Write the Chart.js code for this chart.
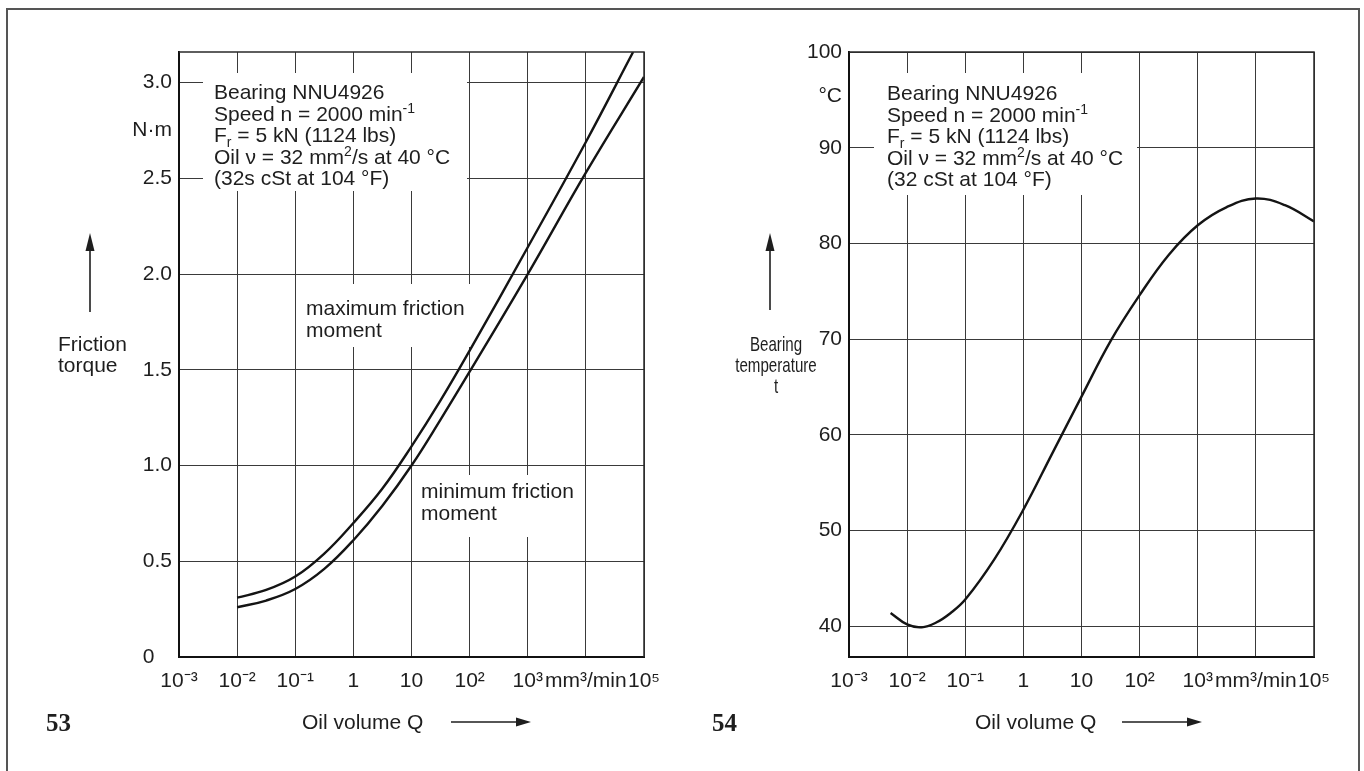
<!DOCTYPE html>
<html lang="en">
<head>
<meta charset="UTF-8">
<title>Friction torque and bearing temperature vs oil volume</title>
<script src="https://cdn.jsdelivr.net/npm/chart.js"></script>
<style>
  body { margin: 0; background: #fff; }
  #page { position: relative; width: 1364px; height: 771px; overflow: hidden; background: #fff; }
  #frame { position: absolute; left: 6px; top: 8px; width: 1354px; height: 800px; border: 2px solid #555; box-sizing: border-box; }
  canvas { position: absolute; left: 0; top: 0; }
</style>
</head>
<body>
<div id="page">
  <div id="frame"></div>
  <canvas id="torque" width="1364" height="771"></canvas>
  <canvas id="temp" width="1364" height="771"></canvas>
</div>
<script>
// --- data ---
const decades = [0.001, 0.01, 0.1, 1, 10, 100, 1000, 10000, 100000];
const decadeLabels = ['10⁻³', '10⁻²', '10⁻¹', '1', '10', '10²', '10³', 'mm³/min', '10⁵'];

// fig 53: friction torque, N·m
const qMaxFriction = [0.01, 0.0316, 0.1, 0.316, 1, 3.16, 10, 31.6, 100, 1000, 10000, 65000];
const torqueMax = [0.31, 0.35, 0.42, 0.54, 0.70, 0.88, 1.10, 1.34, 1.60, 2.14, 2.69, 3.16];
const qMinFriction = [0.01, 0.0316, 0.1, 0.316, 1, 3.16, 10, 31.6, 100, 1000, 10000, 100000];
const torqueMin = [0.26, 0.295, 0.355, 0.46, 0.61, 0.79, 1.00, 1.24, 1.49, 2.00, 2.53, 3.03];
const torqueTicks = [0, 0.5, 1, 1.5, 2, 2.5, 3];
const torqueLabels = ['0   ', '0.5', '1.0', '1.5', '2.0', '2.5', '3.0'];

// fig 54: bearing temperature, °C
const qTemp = [0.0052, 0.01, 0.0178, 0.0316, 0.0562, 0.1, 0.316, 1, 3.16, 10, 31.6, 100, 316, 1000, 3160, 10000, 31600, 100000];
const tempBearing = [41.4, 40.2, 39.9, 40.4, 41.4, 42.8, 47.0, 52.2, 58.1, 64.0, 69.8, 74.6, 78.8, 81.9, 83.8, 84.7, 84.0, 82.3];
const tempTicks = [40, 50, 60, 70, 80, 90, 100];
const tempLabels = ['40', '50', '60', '70', '80', '90', '100'];

const infoTorque = [
  ['Bearing NNU4926'],
  ['Speed n = 2000 min', ['sup', '-1']],
  ['F', ['sub', 'r'], ' = 5 kN (1124 lbs)'],
  ['Oil ν = 32 mm', ['sup', '2'], '/s at 40 °C'],
  ['(32s cSt at 104 °F)']
];
const infoTemp = [
  ['Bearing NNU4926'],
  ['Speed n = 2000 min', ['sup', '-1']],
  ['F', ['sub', 'r'], ' = 5 kN (1124 lbs)'],
  ['Oil ν = 32 mm', ['sup', '2'], '/s at 40 °C'],
  ['(32 cSt at 104 °F)']
];

const FONT = '"Liberation Sans", Arial, sans-serif';
const INK = '#1e1e1e';
const GRID = '#3a3a3a';
const W = 1364, H = 771;

// text with super/subscripts, left aligned at x, baseline y
function richText(ctx, parts, x, y, size) {
  let cx = x;
  parts.forEach(p => {
    let txt = p, dy = 0, fs = size;
    if (Array.isArray(p)) {
      txt = p[1];
      fs = Math.round(size * 0.68);
      dy = p[0] === 'sup' ? -size * 0.36 : size * 0.24;
    }
    ctx.font = fs + 'px ' + FONT;
    ctx.fillText(txt, cx, y + dy);
    cx += ctx.measureText(txt).width;
  });
}

function arrow(ctx, x1, y1, x2, y2, len, half) {
  const ang = Math.atan2(y2 - y1, x2 - x1);
  ctx.beginPath();
  ctx.moveTo(x1, y1);
  ctx.lineTo(x2 - Math.cos(ang) * len * 0.8, y2 - Math.sin(ang) * len * 0.8);
  ctx.stroke();
  ctx.beginPath();
  ctx.moveTo(x2, y2);
  ctx.lineTo(x2 - Math.cos(ang) * len - Math.sin(ang) * half, y2 - Math.sin(ang) * len + Math.cos(ang) * half);
  ctx.lineTo(x2 - Math.cos(ang) * len + Math.sin(ang) * half, y2 - Math.sin(ang) * len - Math.cos(ang) * half);
  ctx.closePath();
  ctx.fill();
}

function makeDecor(cfg) {
  return {
    id: 'decor',
    beforeDatasetsDraw(chart) {
      const ctx = chart.ctx;
      ctx.save();
      ctx.textAlign = 'left';
      ctx.textBaseline = 'alphabetic';
      cfg.boxes.forEach(b => {
        ctx.fillStyle = '#fff';
        ctx.fillRect(b.x, b.y, b.w, b.h);
        ctx.fillStyle = INK;
        b.lines.forEach((ln, i) => richText(ctx, ln, b.tx, b.ty + i * b.lh, 21));
      });
      ctx.restore();
    },
    afterDraw(chart) {
      const ctx = chart.ctx, a = chart.chartArea;
      ctx.save();
      // top and right edge of the plot
      ctx.strokeStyle = '#2a2a2a';
      ctx.lineWidth = 1.5;
      ctx.beginPath();
      ctx.moveTo(a.left, a.top);
      ctx.lineTo(a.right, a.top);
      ctx.lineTo(a.right, a.bottom);
      ctx.stroke();

      ctx.fillStyle = INK;
      ctx.strokeStyle = INK;
      ctx.font = '21px ' + FONT;
      ctx.textBaseline = 'alphabetic';
      // y title (optionally condensed)
      const t = cfg.yTitle;
      ctx.save();
      ctx.translate(t.x, 0);
      ctx.scale(t.squeeze, 1);
      ctx.textAlign = t.align;
      t.lines.forEach((s, i) => ctx.fillText(s, 0, t.y + i * 21));
      ctx.restore();
      ctx.lineWidth = 1.6;
      arrow(ctx, cfg.yArrow.x, cfg.yArrow.y1, cfg.yArrow.x, cfg.yArrow.y2, 18, 4.5);
      // x title
      ctx.textAlign = 'left';
      ctx.fillText('Oil volume Q', cfg.xTitle.x, cfg.xTitle.y);
      arrow(ctx, cfg.xArrow.x1, cfg.xArrow.y, cfg.xArrow.x2, cfg.xArrow.y, 15, 4.5);
      // figure number
      ctx.font = 'bold 25px "Liberation Serif", "Times New Roman", serif';
      ctx.fillText(cfg.figNo, cfg.figPos.x, cfg.figPos.y);
      ctx.restore();
    }
  };
}

function makeChart(id, cfg) {
  const a = cfg.area;
  const yTickList = cfg.yTicks.concat([cfg.unit.value]).sort((p, q) => p - q);
  return new Chart(document.getElementById(id), {
    type: 'line',
    data: {
      datasets: cfg.series.map(s => ({
        data: s.q.map((q, i) => ({ x: q, y: s.v[i] })),
        borderColor: '#141414',
        borderWidth: 2.4,
        pointRadius: 0,
        fill: false,
        tension: 0.4
      }))
    },
    options: {
      responsive: false,
      animation: false,
      devicePixelRatio: 1,
      events: [],
      layout: { padding: { left: 0, top: a.top, right: W - a.right, bottom: 0 } },
      plugins: { legend: { display: false }, tooltip: { enabled: false } },
      scales: {
        x: {
          type: 'logarithmic',
          min: decades[0],
          max: decades[decades.length - 1],
          afterBuildTicks: s => { s.ticks = decades.map(v => ({ value: v })); },
          afterFit: s => { s.height = H - a.bottom; s.paddingLeft = 0; s.paddingRight = 0; },
          grid: { color: GRID, lineWidth: 1, drawTicks: false },
          border: { color: '#111', width: 2 },
          ticks: {
            autoSkip: false, maxRotation: 0, padding: 12, color: INK,
            font: { family: FONT, size: 21 },
            callback: v => decadeLabels[decades.indexOf(v)]
          }
        },
        y: {
          min: cfg.yMin,
          max: cfg.yMax,
          afterBuildTicks: s => { s.ticks = yTickList.map(v => ({ value: v })); },
          afterFit: s => { s.width = a.left; s.paddingTop = 0; s.paddingBottom = 0; },
          grid: {
            color: c => (c.tick && c.tick.value === cfg.unit.value) ? 'rgba(0,0,0,0)' : GRID,
            lineWidth: 1, drawTicks: false
          },
          border: { color: '#111', width: 2 },
          ticks: {
            autoSkip: false, padding: 7, color: INK,
            font: { family: FONT, size: 21 },
            callback: v => v === cfg.unit.value ? cfg.unit.label : cfg.yLabels[cfg.yTicks.indexOf(v)]
          }
        }
      }
    },
    plugins: [makeDecor(cfg)]
  });
}

makeChart('torque', {
  area: { left: 179, right: 644, top: 52, bottom: 657 },
  yMin: 0, yMax: 3.16,
  yTicks: torqueTicks, yLabels: torqueLabels,
  unit: { value: 2.75, label: 'N·m' },
  series: [{ q: qMaxFriction, v: torqueMax }, { q: qMinFriction, v: torqueMin }],
  boxes: [
    { x: 203, y: 73, w: 264, h: 118, tx: 214, ty: 99, lh: 21.5, lines: infoTorque },
    { x: 300, y: 284, w: 176, h: 63, tx: 306, ty: 315, lh: 22, lines: [['maximum friction'], ['moment']] },
    { x: 415, y: 475, w: 168, h: 62, tx: 421, ty: 498, lh: 21.5, lines: [['minimum friction'], ['moment']] }
  ],
  yTitle: { align: 'left', x: 58, y: 351, squeeze: 1, lines: ['Friction', 'torque'] },
  yArrow: { x: 90, y1: 312, y2: 233 },
  xTitle: { x: 302, y: 729 },
  xArrow: { x1: 451, x2: 531, y: 722 },
  figNo: '53', figPos: { x: 46, y: 731 }
});

makeChart('temp', {
  area: { left: 849, right: 1314, top: 52, bottom: 657 },
  yMin: 36.8, yMax: 100,
  yTicks: tempTicks, yLabels: tempLabels,
  unit: { value: 95.4, label: '°C' },
  series: [{ q: qTemp, v: tempBearing }],
  boxes: [
    { x: 874, y: 73, w: 263, h: 122, tx: 887, ty: 100, lh: 21.5, lines: infoTemp }
  ],
  yTitle: { align: 'center', x: 776, y: 351, squeeze: 0.72, lines: ['Bearing', 'temperature', 't'] },
  yArrow: { x: 770, y1: 310, y2: 233 },
  xTitle: { x: 975, y: 729 },
  xArrow: { x1: 1122, x2: 1202, y: 722 },
  figNo: '54', figPos: { x: 712, y: 731 }
});
</script>
</body>
</html>
